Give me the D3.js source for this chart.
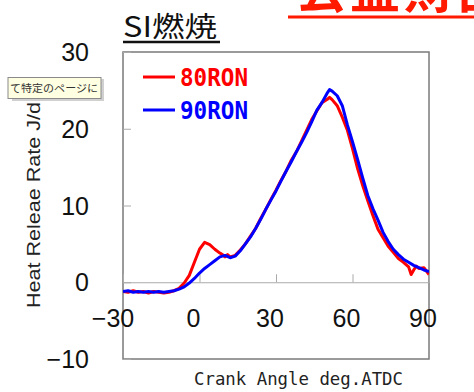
<!DOCTYPE html>
<html lang="ja">
<head>
  <meta charset="UTF-8">
  <title>SI燃焼</title>
  <style>
    body { margin: 0; background: #fff; overflow: hidden; }
    svg { display: block; }
    .tick-label { font-family: "Liberation Sans", Arial, sans-serif; font-size: 25px; fill: #111; }
    .mono { font-family: "DejaVu Sans Mono", "Liberation Mono", monospace; }
  </style>
</head>
<body>
  <script src="https://cdn.jsdelivr.net/npm/d3@7/dist/d3.min.js"></script>
  <script>
    // crank angle (deg ATDC) and heat release rate (J/deg)
    const angles80 = [-30, -28, -26, -24, -22, -20, -18, -16, -14, -12, -10, -8, -6, -4, -2, 0, 2, 4, 6, 8, 9, 10, 11, 12, 14, 16, 18, 20, 22, 24, 26, 28, 30, 32, 34, 36, 38, 40, 42, 44, 46, 48, 50, 51, 52, 54, 56, 58, 60, 62, 64, 66, 68, 70, 72, 74, 76, 78, 80, 82, 83, 84, 85, 86, 88, 90];
    const hrr80 = [-1.2, -1.3, -1.1, -1.3, -1.2, -1.4, -1.2, -1.3, -1.4, -1.3, -1.1, -0.8, -0.1, 0.9, 2.6, 4.3, 5.2, 4.9, 4.3, 3.8, 3.6, 3.3, 3.6, 3.3, 3.5, 4.2, 5.0, 6.0, 7.0, 8.3, 9.5, 10.8, 12.0, 13.3, 14.5, 15.9, 17.0, 18.4, 19.8, 21.2, 22.3, 23.4, 23.8, 24.1, 23.8, 23.0, 21.5, 19.8, 17.4, 14.8, 12.6, 10.6, 8.7, 6.9, 5.8, 4.7, 3.9, 3.1, 2.6, 2.0, 1.0, 1.6, 2.1, 1.8, 1.9, 1.0];

    const angles90 = [-30, -28, -26, -24, -22, -20, -18, -16, -14, -12, -10, -8, -6, -4, -2, 0, 2, 4, 6, 8, 10, 12, 14, 16, 18, 20, 22, 24, 26, 28, 30, 32, 34, 36, 38, 40, 42, 44, 46, 48, 50, 51, 52, 54, 56, 58, 60, 62, 64, 66, 68, 70, 72, 74, 76, 78, 80, 82, 84, 86, 88, 90];
    const hrr90 = [-1.2, -1.1, -1.3, -1.2, -1.3, -1.2, -1.3, -1.2, -1.3, -1.2, -1.1, -0.9, -0.6, -0.1, 0.5, 1.2, 1.8, 2.3, 2.8, 3.3, 3.5, 3.2, 3.4, 4.1, 5.0, 5.9, 7.0, 8.2, 9.5, 10.7, 11.9, 13.2, 14.5, 15.7, 17.0, 18.2, 19.5, 20.9, 22.4, 23.4, 24.6, 25.1, 24.9, 24.3, 23.0, 20.5, 18.3, 16.0, 13.6, 11.3, 9.6, 8.1, 6.5, 5.3, 4.3, 3.6, 3.0, 2.6, 2.2, 1.9, 1.6, 1.4];

    const xTicks = [-30, 0, 30, 60, 90];
    const yTicks = [-10, 0, 10, 20, 30];
    const seriesNames = ["80RON", "90RON"];
    const seriesColors = ["#ff0000", "#0000ff"];

    const width = 474, height = 392;
    const svg = d3.select("body").append("svg").attr("width", width).attr("height", height);

    const x = d3.scaleLinear().domain([-30, 90]).range([123, 429]);
    const y = d3.scaleLinear().domain([-10, 30]).range([359, 52]);

    svg.append("defs").append("clipPath").attr("id", "plot-clip")
      .append("rect").attr("x", x(-30)).attr("y", y(30))
      .attr("width", x(90) - x(-30)).attr("height", y(-10) - y(30));

    // red heading at the top right, mostly cut off by the page edge
    svg.append("text").attr("x", 296).attr("y", 8)
      .attr("font-family", "'Noto Sans CJK JP', sans-serif").attr("font-weight", "bold")
      .attr("font-size", 50).attr("fill", "#ff1a00").attr("letter-spacing", 4)
      .text("公益財団法人");
    svg.append("line").attr("x1", 288).attr("x2", 474).attr("y1", 17).attr("y2", 17)
      .attr("stroke", "#ff1a00").attr("stroke-width", 3);

    // chart title
    svg.append("text").attr("x", 123).attr("y", 37)
      .attr("font-family", "'Noto Sans CJK JP', 'Liberation Sans', sans-serif")
      .attr("font-size", 28).attr("fill", "#111")
      .attr("textLength", 94).attr("lengthAdjust", "spacingAndGlyphs")
      .text("SI燃焼");
    svg.append("line").attr("x1", 123).attr("x2", 220).attr("y1", 42).attr("y2", 42)
      .attr("stroke", "#111").attr("stroke-width", 2.5);

    // plot frame
    svg.append("rect").attr("x", x(-30)).attr("y", y(30))
      .attr("width", x(90) - x(-30)).attr("height", y(-10) - y(30))
      .attr("fill", "#fff").attr("stroke", "#7a7a7a").attr("stroke-width", 1.5);

    // zero line acting as x axis, ticks point up
    const xAxis = d3.axisTop(x).tickValues(xTicks).tickSize(8).tickFormat("");
    const gx = svg.append("g").attr("transform", `translate(0,${y(0)})`).call(xAxis);
    gx.select(".domain").attr("stroke", "#aaa");
    gx.selectAll(".tick line").attr("stroke", "#aaa");

    const yAxis = d3.axisRight(y).tickValues(yTicks).tickSize(8).tickFormat("");
    const gy = svg.append("g").attr("transform", `translate(${x(-30)},0)`).call(yAxis);
    gy.select(".domain").remove();
    gy.selectAll(".tick line").attr("stroke", "#aaa");

    svg.append("g").selectAll("text").data(xTicks).join("text")
      .attr("class", "tick-label")
      .attr("x", d => x(d) - (d < 0 ? 10 : 6)).attr("y", 327)
      .attr("text-anchor", "middle")
      .text(d => d < 0 ? "\u2212" + Math.abs(d) : d);

    svg.append("g").selectAll("text").data(yTicks).join("text")
      .attr("class", "tick-label")
      .attr("x", 89).attr("y", d => y(d) + 9)
      .attr("text-anchor", "end")
      .text(d => d < 0 ? "\u2212" + Math.abs(d) : d);

    // curves
    const line = d3.line().x(d => x(d[0])).y(d => y(d[1]));
    const series = [d3.zip(angles80, hrr80), d3.zip(angles90, hrr90)];
    svg.append("g").attr("clip-path", "url(#plot-clip)")
      .selectAll("path").data(series).join("path")
      .attr("d", line).attr("fill", "none")
      .attr("stroke", (d, i) => seriesColors[i]).attr("stroke-width", 3)
      .attr("stroke-linejoin", "round");

    // legend
    const legend = svg.append("g").selectAll("g").data(seriesNames).join("g")
      .attr("transform", (d, i) => `translate(143,${77 + i * 33})`);
    legend.append("line").attr("x1", 0).attr("x2", 32)
      .attr("stroke", (d, i) => seriesColors[i]).attr("stroke-width", 3);
    legend.append("text").attr("class", "mono").attr("x", 37).attr("y", 9)
      .attr("font-size", 24).attr("font-weight", "bold").attr("fill", (d, i) => seriesColors[i])
      .attr("textLength", 68).attr("lengthAdjust", "spacingAndGlyphs")
      .text(d => d);

    // axis titles
    svg.append("text")
      .attr("transform", "translate(40,308) rotate(-90)")
      .attr("font-family", "'Liberation Sans', Arial, sans-serif")
      .attr("font-size", 18).attr("fill", "#222")
      .attr("textLength", 230).attr("lengthAdjust", "spacingAndGlyphs")
      .text("Heat Releae Rate J/deg");
    svg.append("text").attr("class", "mono")
      .attr("x", 194).attr("y", 385)
      .attr("font-size", 18).attr("fill", "#222")
      .attr("textLength", 209).attr("lengthAdjust", "spacingAndGlyphs")
      .text("Crank Angle deg.ATDC");

    // browser tooltip left over in the screenshot
    const tip = svg.append("g");
    tip.append("rect").attr("x", 12).attr("y", 79).attr("width", 92).attr("height", 22)
      .attr("fill", "#d0d0d0");
    tip.append("rect").attr("x", 8).attr("y", 77.5).attr("width", 93).attr("height", 21)
      .attr("fill", "#ffffe1").attr("stroke", "#8a8a8a");
    tip.append("text").attr("x", 10).attr("y", 92)
      .attr("font-family", "'Noto Sans CJK JP', sans-serif").attr("font-size", 10.5)
      .attr("fill", "#333").attr("textLength", 88).attr("lengthAdjust", "spacingAndGlyphs")
      .text("て特定のページに");
  </script>
</body>
</html>
